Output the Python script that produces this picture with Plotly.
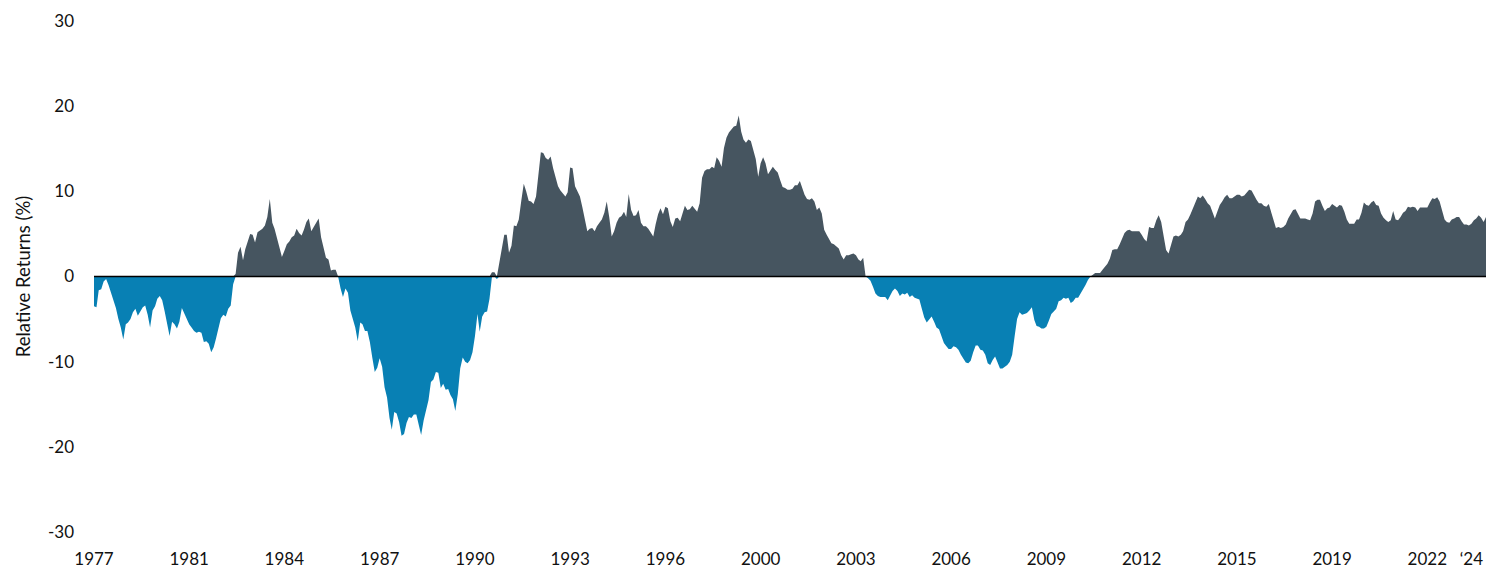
import numpy as np
import pandas as pd
import plotly.graph_objects as go

# Monthly relative returns (%), Jan 1977 onwards
vals_1977_1986 = [
    -3.5, -3.6, -1.6, -1.5, -0.6, -0.3, -1.0, -2.0, -2.7, -3.7,
    -5.0, -6.0, -7.4, -5.6, -5.4, -5.0, -4.2, -3.8, -4.6, -4.0,
    -3.6, -3.4, -4.5, -6.0, -4.0, -3.5, -2.6, -2.3, -2.8, -4.1,
    -5.6, -7.0, -5.3, -5.6, -6.1, -5.3, -3.7, -4.4, -4.9, -5.6,
    -6.0, -6.4, -6.6, -6.5, -6.6, -7.7, -7.6, -7.9, -8.9, -8.3,
    -7.3, -6.1, -4.9, -4.5, -4.7, -3.8, -3.4, -0.9, 0.3, 2.8,
    3.5, 1.9, 3.2, 4.2, 5.0, 4.9, 4.0, 5.2, 5.4, 5.6,
    6.0, 7.0, 9.1, 6.3, 5.6, 4.5, 3.3, 2.3, 3.0, 3.8,
    4.1, 4.6, 4.8, 5.6, 5.1, 4.8, 5.5, 6.4, 6.8, 5.3,
    5.8, 6.3, 6.8, 4.6, 3.4, 2.2, 2.0, 0.7, 0.8, 0.8,
    0.0, -1.4, -2.4, -1.4, -1.9, -4.0, -5.0, -6.0, -7.6, -5.4,
    -5.6, -6.4, -6.4, -7.7, -9.5, -11.2, -10.7, -9.6, -10.6, -13.0,
]
vals_1987_1996 = [
    -14.2, -16.6, -18.0, -15.9, -16.1, -17.1, -18.7, -18.5, -17.2, -16.5,
    -16.6, -16.2, -16.2, -17.5, -18.6, -16.9, -15.6, -14.5, -12.4, -12.1,
    -11.2, -11.3, -13.1, -12.6, -13.3, -13.2, -13.9, -14.4, -15.8, -13.8,
    -10.8, -9.5, -10.0, -10.2, -9.8, -8.9, -7.0, -4.4, -6.5, -4.7,
    -4.2, -4.1, -2.6, 0.5, 0.5, -0.3, 1.7, 3.7, 4.9, 4.9,
    2.8, 3.6, 6.0, 5.9, 6.7, 8.9, 10.9, 10.0, 8.9, 8.8,
    8.5, 9.4, 12.2, 14.6, 14.5, 13.9, 13.7, 14.1, 12.7, 11.5,
    10.6, 10.1, 9.7, 9.4, 9.9, 12.8, 12.7, 10.6, 10.0, 9.4,
    8.1, 6.6, 5.3, 5.6, 5.7, 5.3, 5.9, 6.3, 6.7, 7.5,
    8.8, 7.0, 4.7, 5.3, 6.3, 6.9, 7.1, 7.6, 7.0, 9.7,
    7.8, 7.1, 7.2, 7.8, 6.3, 5.9, 5.9, 5.6, 5.1, 4.7,
    6.1, 7.3, 8.0, 7.3, 8.2, 8.0, 6.5, 5.8, 6.8, 6.9,
]
vals_1997_2006 = [
    6.5, 7.4, 8.3, 7.8, 7.9, 8.3, 8.0, 7.6, 8.6, 11.6,
    12.4, 12.6, 12.6, 12.9, 12.7, 14.0, 13.6, 12.9, 15.1, 16.3,
    16.9, 17.2, 17.6, 17.7, 18.9, 17.0, 16.1, 15.7, 16.1, 15.9,
    15.0, 13.8, 11.7, 13.3, 14.0, 13.3, 12.0, 12.5, 12.9, 12.5,
    12.2, 11.3, 10.5, 10.4, 10.2, 10.2, 10.3, 10.7, 10.7, 11.2,
    10.4, 9.6, 9.1, 9.0, 9.2, 8.8, 7.8, 8.1, 7.4, 5.5,
    4.9, 4.3, 3.9, 3.8, 3.6, 3.3, 2.5, 2.0, 2.5, 2.5,
    2.6, 2.7, 2.5, 2.0, 1.8, 2.2, 0.0, -0.2, -0.5, -1.2,
    -2.0, -2.3, -2.4, -2.4, -2.4, -2.8, -2.3, -1.7, -1.4, -1.7,
    -2.3, -2.0, -2.1, -1.9, -2.4, -2.2, -2.5, -2.6, -2.7, -3.8,
    -4.8, -5.4, -5.1, -4.7, -5.3, -6.0, -6.2, -7.1, -7.8, -8.2,
    -8.5, -8.5, -8.2, -8.3, -8.6, -9.2, -9.7, -10.1, -10.2, -9.9,
]
vals_2007_2016 = [
    -8.9, -8.1, -8.1, -8.6, -8.7, -9.2, -10.2, -10.4, -9.8, -9.4,
    -10.1, -10.8, -10.8, -10.6, -10.4, -10.0, -9.2, -7.0, -5.0, -4.2,
    -4.5, -4.4, -4.3, -4.0, -3.6, -5.1, -5.8, -5.9, -6.1, -6.1,
    -5.9, -5.2, -4.4, -4.1, -3.8, -2.9, -2.8, -2.5, -2.6, -2.5,
    -3.1, -2.9, -2.5, -2.5, -2.0, -1.6, -1.0, -0.4, 0.0, 0.2,
    0.4, 0.4, 0.4, 0.8, 1.2, 1.5, 2.1, 3.1, 3.2, 3.2,
    3.8, 4.5, 5.1, 5.4, 5.5, 5.3, 5.3, 5.3, 5.3, 4.9,
    4.4, 4.1, 5.8, 5.7, 5.7, 6.6, 7.2, 6.4, 4.5, 3.1,
    2.7, 3.6, 4.7, 4.8, 4.7, 4.9, 5.3, 6.4, 6.7, 7.3,
    8.0, 8.7, 9.4, 9.2, 9.5, 9.1, 8.6, 8.3, 7.6, 6.8,
    7.6, 8.4, 8.8, 9.3, 9.6, 9.2, 9.2, 9.4, 9.6, 9.6,
    9.4, 9.5, 9.9, 10.2, 10.1, 9.5, 9.0, 8.6, 8.6, 8.3,
]
vals_2017_2024 = [
    8.2, 8.5, 7.7, 6.7, 5.7, 5.8, 5.7, 5.8, 6.1, 6.8,
    7.4, 7.8, 7.9, 7.4, 6.8, 6.8, 6.8, 6.7, 6.6, 7.4,
    8.8, 9.0, 9.0, 8.3, 7.7, 8.0, 8.1, 8.5, 8.3, 8.1,
    8.4, 8.3, 7.6, 6.7, 6.2, 6.2, 6.2, 6.7, 6.7, 7.5,
    8.7, 8.4, 8.3, 8.7, 8.9, 8.4, 8.3, 7.4, 6.9, 6.6,
    6.4, 6.6, 7.7, 6.7, 6.6, 7.0, 7.5, 7.7, 8.2, 8.1,
    8.2, 8.1, 7.7, 8.1, 8.1, 8.1, 8.1, 8.7, 9.2, 9.1,
    9.3, 8.8, 7.6, 6.7, 6.4, 6.3, 6.7, 6.8, 7.0, 7.0,
    6.5, 6.1, 6.1, 6.0, 6.2, 6.6, 6.8, 7.2, 6.9, 6.4, 7.0,
]

# Category-axis labels (every 39th month) and their month offsets
tick_labels = ["1977", "1981", "1984", "1987", "1990", "1993", "1996", "2000",
               "2003", "2006", "2009", "2012", "2015", "2019", "2022", "\u201824"]
tick_months = [0, 39, 78, 117, 156, 195, 234, 273, 312, 351, 390, 429, 468, 507, 546, 564]

# Y-axis ticks (labels use a plain hyphen, as in the reference)
y_ticks = [-30, -20, -10, 0, 10, 20, 30]
y_labels = ["-30", "-20", "-10", "0", "10", "20", "30"]

values = np.array(vals_1977_1986 + vals_1987_1996 + vals_1997_2006
                  + vals_2007_2016 + vals_2017_2024)
dates = pd.date_range("1977-01-01", periods=len(values), freq="MS")

pos = np.where(values > 0, values, 0.0)
neg = np.where(values < 0, values, 0.0)

DARK = "#465560"
BLUE = "#0880B4"
FONT = "Lato, 'Open Sans', sans-serif"
TXT = "#111111"
FS = 17

fig = go.Figure()
fig.add_trace(go.Scatter(x=dates, y=pos, mode="lines", fill="tozeroy",
                         fillcolor=DARK, line=dict(width=0, color=DARK),
                         showlegend=False, hoverinfo="skip"))
fig.add_trace(go.Scatter(x=dates, y=neg, mode="lines", fill="tozeroy",
                         fillcolor=BLUE, line=dict(width=0, color=BLUE),
                         showlegend=False, hoverinfo="skip"))

fig.add_shape(type="line", xref="paper", x0=0, x1=1, yref="y", y0=0, y1=0,
              line=dict(color="black", width=1.5), layer="above")

fig.update_layout(
    width=1488, height=570,
    margin=dict(l=94, r=2, t=21, b=38, autoexpand=False),
    paper_bgcolor="white", plot_bgcolor="white",
    font=dict(family=FONT, size=FS, color=TXT),
    showlegend=False,
    hovermode=False,
)
fig.update_xaxes(
    range=[dates[0], dates[-1]], automargin=False,
    showgrid=False, zeroline=False, showline=False, ticks="",
    tickmode="array",
    tickvals=[dates[m] for m in tick_months],
    ticktext=tick_labels,
    tickfont=dict(family=FONT, size=FS, color=TXT),
    ticklabelstandoff=15,
)
fig.update_yaxes(
    range=[-30, 30], automargin=False,
    showgrid=False, zeroline=False, showline=False, ticks="",
    tickmode="array", tickvals=y_ticks, ticktext=y_labels,
    tickfont=dict(family=FONT, size=FS, color=TXT),
    ticklabelstandoff=19,
    title=dict(text="Relative Returns (%)", standoff=12,
               font=dict(family=FONT, size=18.5, color=TXT)),
)

fig.write_html("out.html",
               config={"displayModeBar": False, "staticPlot": True},
               post_script="document.body.style.margin='0px';"
                           "document.body.style.overflow='hidden';")
